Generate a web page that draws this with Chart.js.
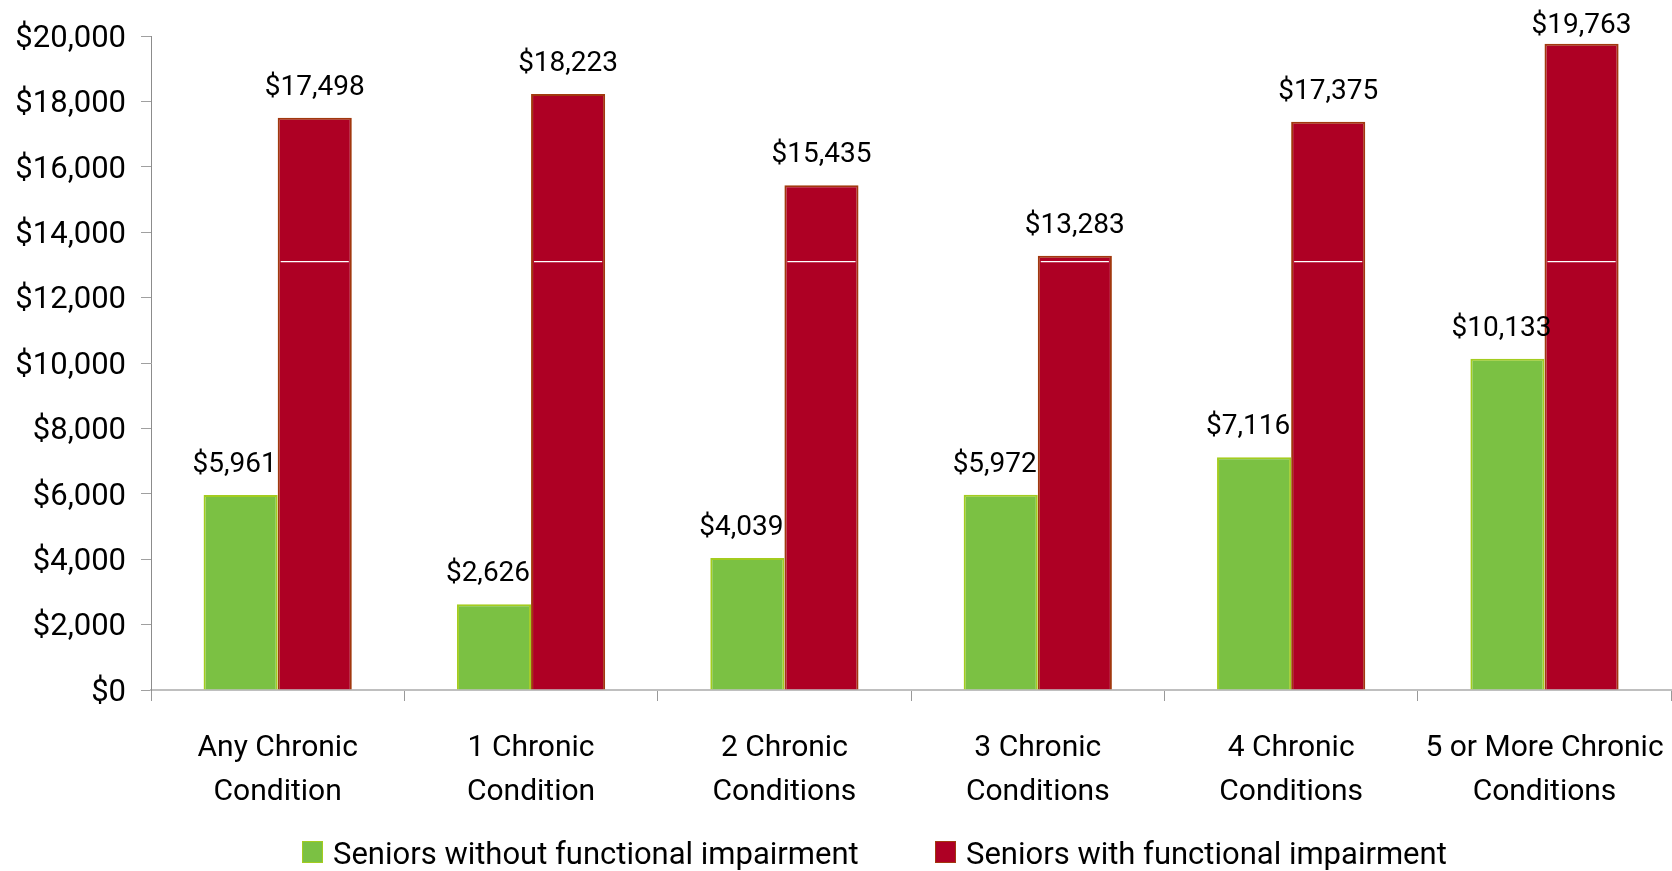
<!DOCTYPE html>
<html>
<head>
<meta charset="utf-8">
<script src="https://cdn.jsdelivr.net/npm/chart.js@4.4.1/dist/chart.umd.min.js"></script>
<style>
  html, body { margin: 0; padding: 0; background: #fff; overflow: hidden; }
  #wrap { position: relative; width: 1690px; height: 871px; }
  #chart { display: block; }
  #legend { position: absolute; top: 837px; left: 0; width: 1672px; height: 34px;
            font-family: Roboto, sans-serif; font-size: 31px; color: #000; }
  .item { position: absolute; top: 0; white-space: nowrap; line-height: 34px; }
  .box { position: absolute; top: 4px; width: 19px; height: 20px; border: 1px solid; }
  .txt { position: absolute; top: 0; }
</style>
</head>
<body>
<div id="wrap">
  <canvas id="chart" width="1690" height="871"></canvas>
  <div id="legend"></div>
</div>
<script>
// ===== DATA =====
const categories = [
  ["Any Chronic", "Condition"],
  ["1 Chronic", "Condition"],
  ["2 Chronic", "Conditions"],
  ["3 Chronic", "Conditions"],
  ["4 Chronic", "Conditions"],
  ["5 or More Chronic", "Conditions"]
];
const withoutImpairment = [5961, 2626, 4039, 5972, 7116, 10133];
const withImpairment = [17498, 18223, 15435, 13283, 17375, 19763];
const seriesNames = ["Seniors without functional impairment", "Seniors with functional impairment"];
const yTicks = [0, 2000, 4000, 6000, 8000, 10000, 12000, 14000, 16000, 18000, 20000];

const GREEN = "#7BC143", GREEN_EDGE = "#A3CC1F";
const RED = "#AE0024", RED_EDGE = "#A1380E";
const FONT = "Roboto, sans-serif";

const money = v => "$" + v.toLocaleString("en-US");

// ===== VALUE LABELS =====
const valueLabels = {
  id: "valueLabels",
  afterDatasetsDraw(chart) {
    const ctx = chart.ctx;
    ctx.save();
    ctx.font = `28px ${FONT}`;
    ctx.fillStyle = "#000";
    ctx.textAlign = "center";
    ctx.textBaseline = "alphabetic";
    chart.data.datasets.forEach((ds, i) => {
      chart.getDatasetMeta(i).data.forEach((bar, j) => {
        const dx = i === 0 ? -6 : 0;
        // keep labels inside the canvas, like the original does for the tallest bar
        const y = Math.max(bar.y - 23, 33);
        ctx.fillText(money(ds.data[j]), bar.x + dx, y);
      });
    });
    ctx.restore();
  }
};

// thin white streak seen across the red bars
const streak = {
  id: "streak",
  afterDatasetsDraw(chart) {
    const ctx = chart.ctx;
    const y = chart.scales.y.getPixelForValue(13100);
    ctx.save();
    ctx.strokeStyle = "#fff";
    ctx.lineWidth = 1.2;
    chart.getDatasetMeta(1).data.forEach(bar => {
      if (bar.y > y) return;
      ctx.beginPath();
      ctx.moveTo(bar.x - bar.width / 2 + 3, y);
      ctx.lineTo(bar.x + bar.width / 2 - 3, y);
      ctx.stroke();
    });
    ctx.restore();
  }
};

new Chart(document.getElementById("chart"), {
  type: "bar",
  data: {
    labels: categories,
    datasets: [
      { label: seriesNames[0], data: withoutImpairment, backgroundColor: GREEN,
        borderColor: GREEN_EDGE, borderWidth: 2, borderSkipped: "bottom" },
      { label: seriesNames[1], data: withImpairment, backgroundColor: RED,
        borderColor: RED_EDGE, borderWidth: 2, borderSkipped: "bottom" }
    ]
  },
  options: {
    responsive: false,
    animation: false,
    devicePixelRatio: 1,
    datasets: { bar: { categoryPercentage: 0.585, barPercentage: 1.0 } },
    layout: { padding: { left: 15, right: 17, top: 36, bottom: 31 } },
    plugins: { legend: { display: false }, tooltip: { enabled: false } },
    scales: {
      x: {
        afterFit: s => { s.height = 150; },
        grid: { offset: true, drawOnChartArea: false, drawTicks: true, tickLength: 11,
                color: "#999", lineWidth: 1 },
        border: { color: "#BFBFBF", width: 2 },
        ticks: { color: "#000", font: { family: FONT, size: 30, lineHeight: 1.47 },
                 padding: 25, maxRotation: 0, autoSkip: false }
      },
      y: {
        min: yTicks[0],
        max: yTicks[yTicks.length - 1],
        afterFit: s => { s.width = 136; },
        afterBuildTicks: s => { s.ticks = yTicks.map(v => ({ value: v })); },
        grid: { drawOnChartArea: false, drawTicks: true, tickLength: 10, color: "#A0A0A0" },
        border: { color: "#8C8C8C", width: 1 },
        ticks: { color: "#000", font: { family: FONT, size: 31 }, padding: 15, labelOffset: 3,
                 callback: v => money(v) }
      }
    }
  },
  plugins: [valueLabels, streak]
});

// ===== LEGEND =====
const legendSpots = [302, 935];
const legendColors = [[GREEN, GREEN_EDGE], [RED, RED_EDGE]];
const legend = document.getElementById("legend");
seriesNames.forEach((name, i) => {
  const item = document.createElement("div");
  item.className = "item";
  item.style.left = legendSpots[i] + "px";
  item.innerHTML = `<span class="box" style="left:0;background:${legendColors[i][0]};border-color:${legendColors[i][1]}"></span>` +
                   `<span class="txt" style="left:31px">${name}</span>`;
  legend.appendChild(item);
});
</script>
</body>
</html>
